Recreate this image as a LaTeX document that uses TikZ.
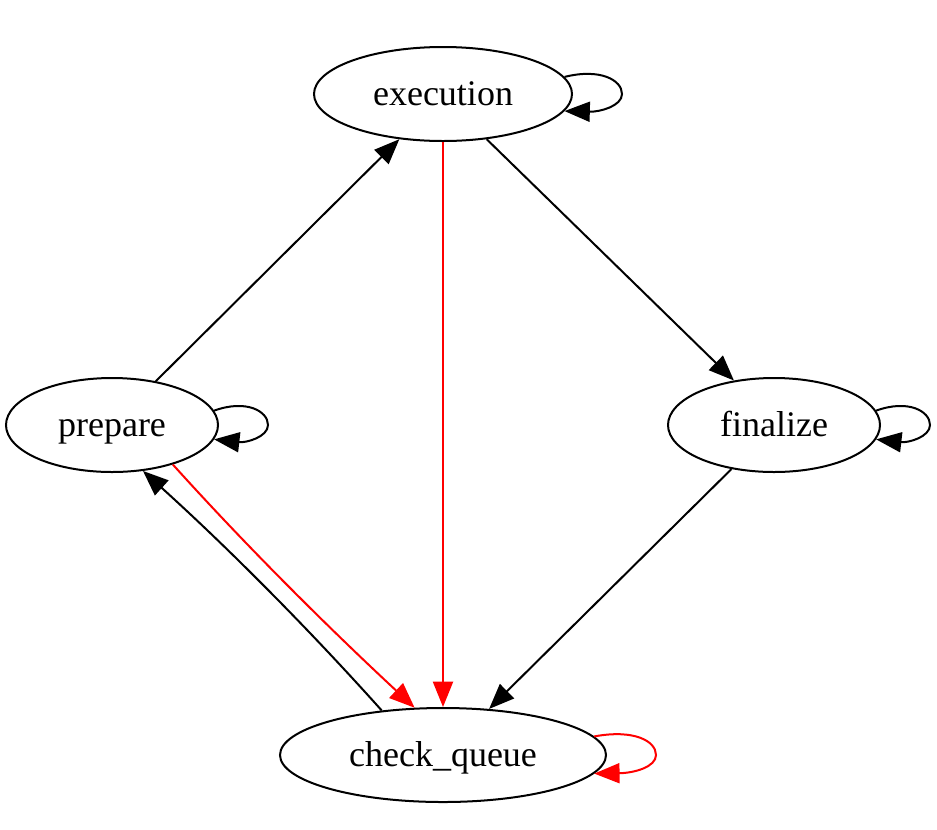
\documentclass[tikz,border=0pt]{standalone}
\usepackage{fontspec}
\setmainfont{Liberation Serif}
\usetikzlibrary{shapes.geometric,arrows.meta}
\begin{document}
\begin{tikzpicture}[x=0.75pt,y=-0.75pt,
  state/.style={draw,ellipse,line width=1.5pt,inner sep=0pt,minimum height=70.5pt,
    text height=20pt,text depth=3.5pt,font=\fontsize{27pt}{30pt}\selectfont},
  edge/.style={line width=1.5pt,-{Triangle[length=19pt,width=15pt]}},
  rededge/.style={edge,red}]
\useasboundingbox (0,0) rectangle (937,829);
\node[state,minimum width=193.5pt] (exec) at (443,94) {execution};
\node[state,minimum width=159pt] (prep) at (112,425) {prepare};
\node[state,minimum width=159pt] (fin) at (774,425) {finalize};
\node[state,minimum width=244.5pt] (check) at (443,755) {check\_queue};
% edges
\draw[edge] (prep.45) -- (exec.226);
\draw[edge] (exec.-46) -- (fin.132);
\draw[rededge] (exec.south) -- (check.north);
\draw[edge] (fin.-134) -- (check.45);
\draw[edge] (check.144) .. controls (307,627) and (226,546) .. (prep.-56);
\draw[rededge] (prep.-33.7) .. controls (249,549) and (331,630) .. (check.121);
% self loops
\draw[edge] (exec.8) .. controls (600,68) and (622,80) .. (622,94) .. controls (622,106) and (600,112) .. (exec.-8);
\draw[edge] (prep.8) .. controls (246,399) and (268,411) .. (268,425) .. controls (268,437) and (246,443) .. (prep.-8);
\draw[edge] (fin.8) .. controls (908,399) and (930,411) .. (930,425) .. controls (930,437) and (908,443) .. (fin.-8);
\draw[rededge] (check.7) .. controls (634,729) and (656,741) .. (656,755) .. controls (656,767) and (634,773) .. (check.-7);
\end{tikzpicture}
\end{document}
